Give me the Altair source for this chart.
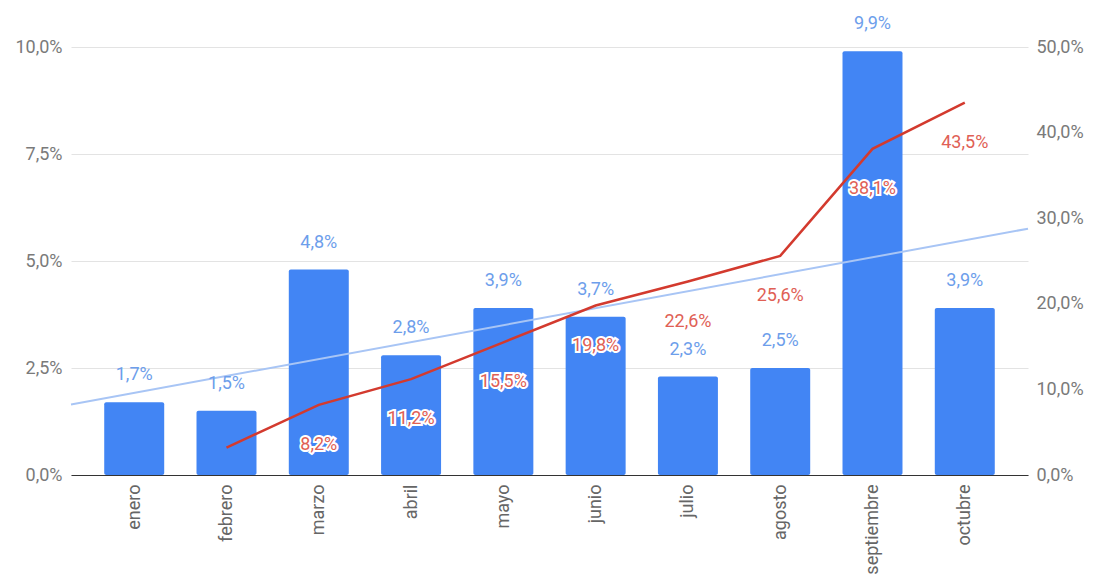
import altair as alt
import pandas as pd

months = ["enero", "febrero", "marzo", "abril", "mayo", "junio",
          "julio", "agosto", "septiembre", "octubre"]
monthly = [1.7, 1.5, 4.8, 2.8, 3.9, 3.7, 2.3, 2.5, 9.9, 3.9]
cumulative = [None, 3.2, 8.2, 11.2, 15.5, 19.8, 22.6, 25.6, 38.1, 43.5]
left_ticks = [0, 2.5, 5, 7.5, 10]
right_ticks = [0, 10, 20, 30, 40, 50]

df = pd.DataFrame({"i": list(range(len(months))), "mes": months,
                   "mensual": monthly, "acum": cumulative})

XDOM = [-0.685, len(months) - 1 + 0.685]
xscale = alt.Scale(domain=XDOM, nice=False, zero=False)
lscale = alt.Scale(domain=[0, 10], nice=False)
rscale = alt.Scale(domain=[0, 50], nice=False)

month_arr = "[" + ",".join("'%s'" % m for m in months) + "]"
pct_expr = "replace(format(datum.value, '.1f'), '.', ',') + '%'"
FONT = "Roboto"
FS = 18

base = alt.Chart(df)

x_axis = alt.Axis(values=list(range(len(months))), labelExpr=month_arr + "[datum.value]",
                  labelAngle=270, grid=False, ticks=False, domain=True,
                  domainColor="#333333", domainWidth=1.2, labelColor="#666666",
                  labelFontSize=FS, labelFont=FONT, labelPadding=9, title=None)
l_axis = alt.Axis(values=left_ticks, labelExpr=pct_expr, domain=False, ticks=False,
                  gridColor="#e3e3e3", labelColor="#7a7a7a", labelFontSize=FS,
                  labelFont=FONT, labelPadding=9, title=None, orient="left")
r_axis = alt.Axis(values=right_ticks, labelExpr=pct_expr, domain=False, ticks=False,
                  grid=False, labelColor="#7a7a7a", labelFontSize=FS,
                  labelFont=FONT, labelPadding=8, title=None, orient="right")


def X(field):
    return alt.X(field, scale=xscale, axis=x_axis)


def YL(field):
    return alt.Y(field, scale=lscale, axis=l_axis)


def YR(field):
    return alt.Y(field, scale=rscale, axis=r_axis)


bars = base.transform_calculate(
    x0="datum.i - 0.325", x1="datum.i + 0.325"
).mark_bar(color="#4285f4", cornerRadius=2).encode(
    x=X("x0:Q"),
    x2="x1:Q",
    y=YL("mensual:Q"),
    y2=alt.datum(0),
)

trend = base.transform_regression("i", "mensual", extent=XDOM).mark_line(
    color="#a8c5f5", strokeWidth=2
).encode(x=X("i:Q"), y=YL("mensual:Q"))

bar_labels = base.transform_calculate(
    lab="replace(format(datum.mensual, '.1f'), '.', ',') + '%'"
).mark_text(dy=-27, color="#6d9eeb", fontSize=FS, font=FONT).encode(
    x=X("i:Q"), y=YL("mensual:Q"), text="lab:N",
)

left = alt.layer(bars, trend, bar_labels)

cum = base.transform_filter("isValid(datum.acum)")

line = cum.mark_line(color="#d33a2e", strokeWidth=2.5).encode(
    x=X("i:Q"), y=YR("acum:Q"),
)

lab_src = cum.transform_filter("datum.i >= 2").transform_calculate(
    lab="replace(format(datum.acum, '.1f'), '.', ',') + '%'"
)
halo = lab_src.mark_text(dy=40, color="white", stroke="white", strokeWidth=4,
                         fontSize=FS, font=FONT).encode(
    x=X("i:Q"), y=YR("acum:Q"), text="lab:N")
cum_labels = lab_src.mark_text(dy=40, color="#e06055", fontSize=FS, font=FONT).encode(
    x=X("i:Q"), y=YR("acum:Q"), text="lab:N")

right = alt.layer(line, halo, cum_labels)

chart = alt.layer(left, right).resolve_scale(y="independent").properties(
    width=957, height=428,
    autosize=alt.AutoSizeParams(type="none"),
    padding={"left": 63, "top": 39, "right": 61, "bottom": 100},
).configure_view(stroke=None)

chart.save("out.html", embed_options={"renderer": "svg", "actions": False})
